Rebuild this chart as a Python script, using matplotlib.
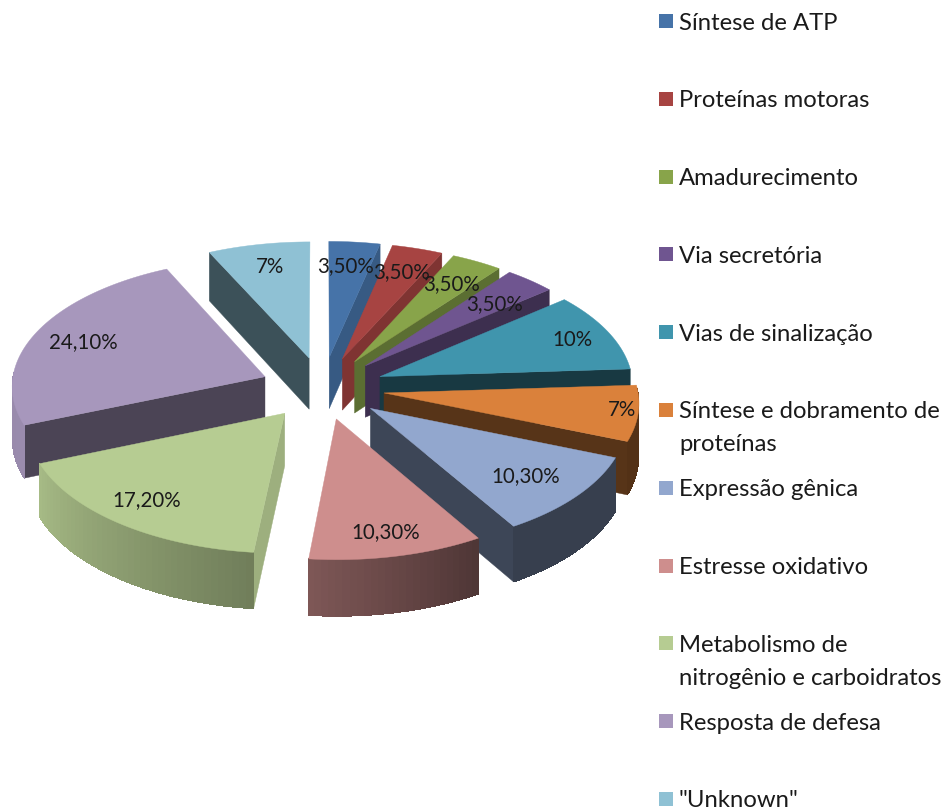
import numpy as np
import matplotlib
matplotlib.use('Agg')
import matplotlib.pyplot as plt
from matplotlib.patches import Polygon, Rectangle

# Data
categories = ['Síntese de ATP', 'Proteínas motoras', 'Amadurecimento', 'Via secretória',
              'Vias de sinalização', 'Síntese e dobramento de\nproteínas', 'Expressão gênica',
              'Estresse oxidativo', 'Metabolismo de\nnitrogênio e carboidratos',
              'Resposta de defesa', '"Unknown"']
values = [3.5, 3.5, 3.5, 3.5, 10, 7, 10.3, 10.3, 17.2, 24.1, 7]
value_labels = ['3,50%', '3,50%', '3,50%', '3,50%', '10%', '7%', '10,30%', '10,30%', '17,20%', '24,10%', '7%']
colors = ['#4673A8', '#A74442', '#88A44A', '#6F5590', '#4095AD', '#DA813B',
          '#92A7CE', '#CE8E8D', '#B6CC92', '#A797BC', '#8FC1D4']
wall_shade = [0.78, 0.76, 0.67, 0.55, 0.38, 0.40, 0.42, 0.5, 0.86, 0.45, 0.42]

# pixel positions of the percent labels
label_xy = [(346, 266), (402, 272), (452, 284), (495, 304), (572, 340), (622, 410),
            (526, 476), (386, 532), (147, 500), (83, 342), (270, 267)]

# pie geometry (perspective projection of a flat disc)
cx, cy = 322.5, 389
rx = 253.5
persp = 0.065
ry_scale = 1960
explode = 0.245
depth = 52


def project(X, Y, z=0.0):
    s = 1 / (1 + Y * persp)
    return cx + rx * X * s, cy - ry_scale + ry_scale * s + z * depth * s


def outer_shade(deg):
    return np.interp(deg, [0, 148, 186, 248, 300, 360], [0.38, 0.38, 0.62, 0.92, 0.9, 0.9])


def darker(col, k):
    rgb = np.array(matplotlib.colors.to_rgb(col))
    return tuple(rgb * k)


fig = plt.figure(figsize=(9.52, 8.12), dpi=100)
ax = fig.add_axes([0, 0, 1, 1])
ax.set_xlim(0, 952)
ax.set_ylim(812, 0)
ax.axis('off')

total = sum(values)
ends = np.cumsum(values) / total * 360
starts = np.concatenate([[0], ends[:-1]])
mids = (starts + ends) / 2

# back slices first
order = np.argsort(-np.cos(np.radians(mids)))
for i in order:
    a, b, m = starts[i], ends[i], np.radians(mids[i])
    ox, oy = explode * np.sin(m), explode * np.cos(m)
    degs = np.arange(a, b, 1.5).tolist() + [b]
    pts = [(ox + np.sin(np.radians(d)), oy + np.cos(np.radians(d))) for d in degs]

    def wall(p):
        q = [project(ox, oy), project(*p), project(p[0], p[1], 1), project(ox, oy, 1)]
        col = darker(colors[i], wall_shade[i])
        ax.add_patch(Polygon(q, closed=True, fc=col, ec=col, lw=0.3))

    # radial walls that face the viewer
    if np.sin(np.radians(a)) < -1e-6:
        wall(pts[0])
    if np.sin(np.radians(b)) > 1e-6:
        wall(pts[-1])

    # rim, in small facets for the gradient
    for k in range(len(pts) - 2, -1, -1):
        d0 = degs[k]
        if np.cos(np.radians(d0 + 0.75)) > 0.03:
            continue
        nxt = pts[k + 1]
        q = [project(*pts[k]), project(*nxt), project(nxt[0], nxt[1], 1), project(pts[k][0], pts[k][1], 1)]
        col = darker(colors[i], outer_shade(d0))
        ax.add_patch(Polygon(q, closed=True, fc=col, ec='none', antialiased=False))

    # top
    top = [project(ox, oy)] + [project(*p) for p in pts]
    ax.add_patch(Polygon(top, closed=True, fc=colors[i], ec=colors[i], lw=0.3))

# Percent labels
for (x, y), lab in zip(label_xy, value_labels):
    ax.text(x, y, lab, ha='center', va='center', fontsize=14.8, family='Lato', color='#1a1a1a')

# Legend
for i, (cat, col) in enumerate(zip(categories, colors)):
    y = 22 + 77.8 * i
    ax.add_patch(Rectangle((659, y - 7), 14, 14, fc=col, ec='none'))
    lines = cat.split('\n')
    for j, line in enumerate(lines):
        ax.text(679, y + 1 + j * 33, line, ha='left', va='center', fontsize=17.2, family='Lato', color='#1a1a1a')

fig.savefig('out.png', dpi=100)
